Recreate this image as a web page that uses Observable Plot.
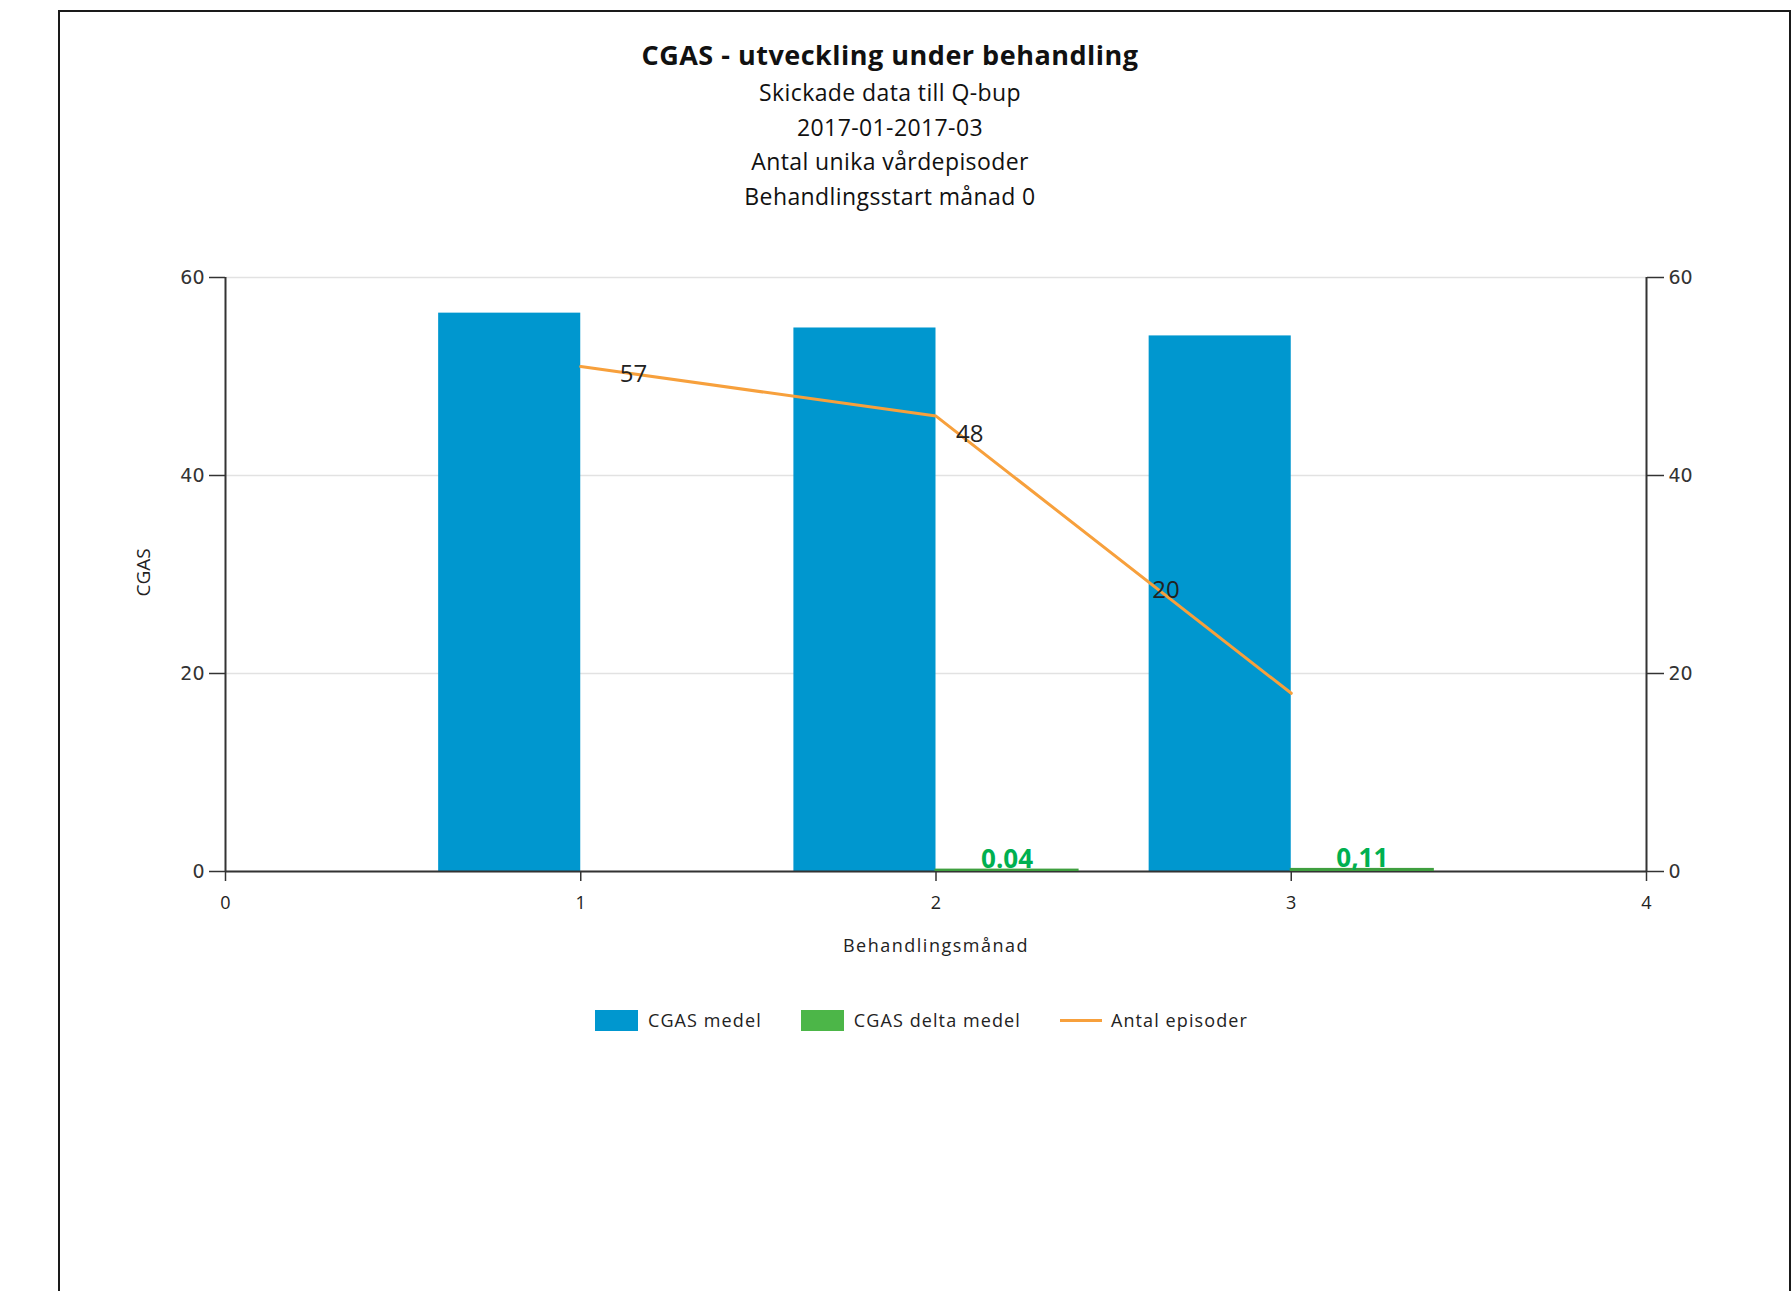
<!DOCTYPE html>
<html>
<head>
<meta charset="utf-8">
<script src="https://cdn.jsdelivr.net/npm/d3@7"></script>
<script src="https://cdn.jsdelivr.net/npm/@observablehq/plot@0.6"></script>
<style>
  body { margin:0; width:1792px; height:1291px; overflow:hidden; background:#fff; position:relative; font-family:"Open Sans",sans-serif; }
  #frame { position:absolute; left:58px; top:10px; width:1733px; height:1300px; border:2px solid #1a1a1a; border-bottom:none; box-sizing:border-box; }
  #head { position:absolute; left:0; width:1780px; top:35px; text-align:center; color:#111; }
  #head .t { font-weight:700; font-size:27px; letter-spacing:0.5px; line-height:40px; }
  #head .s { font-size:23px; letter-spacing:0.4px; line-height:34.5px; }
  #chart { position:absolute; left:0; top:230px; }
  #legend { position:absolute; left:595px; top:1008px; display:flex; align-items:center; font-size:18px; letter-spacing:1.1px; color:#222; }
  #legend .item { display:flex; align-items:center; margin-right:39px; }
  #legend .sw { width:43px; height:21px; margin-right:10px; }
  #legend .ln { width:42px; height:3px; margin-right:9px; }
</style>
</head>
<body>
<div id="frame"></div>
<div id="head">
  <div class="t" id="title"></div>
  <div id="subs"></div>
</div>
<div id="chart"></div>
<div id="legend"></div>
<script>
// ---- data ----
const titleText = "CGAS - utveckling under behandling";
const subtitleLines = ["Skickade data till Q-bup", "2017-01-2017-03", "Antal unika vårdepisoder", "Behandlingsstart månad 0"];
const months = [1, 2, 3];
const cgasMedel = [56.4, 54.9, 54.1];
const deltaMonths = [2, 3];
const cgasDelta = [0.04, 0.11];
const deltaLabels = ["0.04", "0,11"];
const episodeLine = [51, 46, 18];
const episodeLabels = ["57", "48", "20"];
const xTicks = [0, 1, 2, 3, 4];
const yTicks = [0, 20, 40, 60];
const seriesNames = ["CGAS medel", "CGAS delta medel", "Antal episoder"];
const xLabel = "Behandlingsmånad";
const yLabel = "CGAS";

// ---- styles ----
const BLUE = "#0097cf", GREEN = "#4cb648", GREEN_LINE = "#3f9f3f", GREEN_TXT = "#00b050", ORANGE = "#f7a03c", AX = "#333";
const HALF = 0.4;

document.getElementById("title").textContent = titleText;
document.getElementById("subs").innerHTML = subtitleLines.map(s => `<div class="s">${s}</div>`).join("");

const medel = months.map((m, i) => ({m, v: cgasMedel[i]}));
const delta = deltaMonths.map((m, i) => ({m, v: cgasDelta[i], t: deltaLabels[i]}));
const ep = months.map((m, i) => ({m, v: episodeLine[i], t: episodeLabels[i]}));

const epText = (d, dx, dy) => Plot.text([d], {x: "m", y: "v", text: "t", textAnchor: "start", dx, dy, fontSize: 24, fill: "#222", fontFamily: "Open Sans"});

const chart = Plot.plot({
  width: 1792, height: 760,
  marginLeft: 225, marginRight: 146, marginTop: 47, marginBottom: 119,
  x: {domain: [0, 4]},
  y: {domain: [0, 60]},
  style: {fontFamily: "Open Sans", background: "transparent"},
  marks: [
    Plot.gridY(yTicks, {stroke: "#e2e2e2", strokeOpacity: 1, strokeWidth: 1.5}),
    Plot.rectY(medel, {x1: d => d.m - HALF, x2: "m", y1: 0, y2: "v", fill: BLUE}),
    Plot.ruleX([0, 4], {stroke: AX, strokeWidth: 2}),
    Plot.ruleY([0], {stroke: AX, strokeWidth: 2}),
    Plot.rectY(delta, {x1: "m", x2: d => d.m + HALF, y1: 0, y2: "v", fill: GREEN, stroke: GREEN_LINE, strokeWidth: 2, dy: -1}),
    Plot.axisX({ticks: xTicks, tickFormat: d => String(d), tickSize: 10, tickPadding: 15, fontSize: 18, fontFamily: "Open Sans", stroke: AX, strokeWidth: 1.5, fill: "#222", label: null}),
    Plot.axisY({anchor: "left", ticks: yTicks, tickSize: 16, tickPadding: 5, fontSize: 19, fontFamily: "DejaVu Sans", stroke: AX, strokeWidth: 1.5, fill: "#333", label: null}),
    Plot.axisY({anchor: "right", ticks: yTicks, tickSize: 17, tickPadding: 5, fontSize: 19, fontFamily: "DejaVu Sans", stroke: AX, strokeWidth: 1.5, fill: "#333", label: null}),
    Plot.line(ep, {x: "m", y: "v", stroke: ORANGE, strokeWidth: 3}),
    epText(ep[0], 39, 8),
    epText(ep[1], 20, 18),
    epText(ep[2], -139, -103),
    Plot.text(delta, {x: d => d.m + HALF / 2, y: "v", text: "t", lineAnchor: "bottom", dy: -3, fill: GREEN_TXT, fontWeight: "bold", fontSize: 26, fontFamily: "Open Sans"}),
    Plot.text([yLabel], {frameAnchor: "left", rotate: -90, dx: -82, dy: 22, fontSize: 19, fill: "#222", fontFamily: "Open Sans"}),
    Plot.text([xLabel], {frameAnchor: "bottom", dy: 80, fontSize: 18, fill: "#222", fontFamily: "Open Sans"})
  ]
});
document.getElementById("chart").appendChild(chart);
d3.select(chart).selectAll("text").filter(function(){ return this.textContent === xLabel; }).attr("letter-spacing", "1.5px");

const legendColors = [BLUE, GREEN, ORANGE];
document.getElementById("legend").innerHTML = seriesNames.map((n, i) =>
  `<div class="item"><div class="${i < 2 ? "sw" : "ln"}" style="background:${legendColors[i]}"></div><span>${n}</span></div>`).join("");
</script>
</body>
</html>
